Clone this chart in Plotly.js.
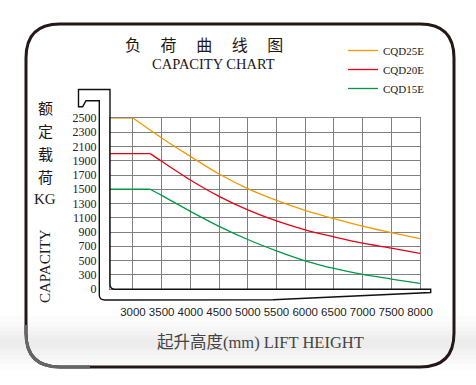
<!DOCTYPE html>
<html>
<head>
<meta charset="utf-8">
<script src="https://cdn.plot.ly/plotly-3.0.1.min.js"></script>
<style>
html,body{margin:0;padding:0;background:#fff;}
#chart{width:476px;height:385px;}
</style>
</head>
<body>
<div id="chart"></div>
<script>
// ---- data ----
const seriesNames = ['CQD25E', 'CQD20E', 'CQD15E'];
const seriesColors = ['#f39800', '#e60012', '#009944'];

const liftCQD25E = [2600, 3000, 3500, 4000, 4500, 5000, 5500, 6000, 6500, 7000, 7500, 8000];
const loadCQD25E = [2500, 2500, 2220, 1962, 1714, 1510, 1345, 1205, 1088, 982, 890, 808];

const liftCQD20E = [2600, 3300, 3500, 4000, 4500, 5000, 5500, 6000, 6500, 7000, 7500, 8000];
const loadCQD20E = [2000, 2000, 1892, 1630, 1400, 1210, 1055, 930, 832, 743, 673, 599];

const liftCQD15E = [2600, 3300, 3500, 4000, 4500, 5000, 5500, 6000, 6500, 7000, 7500, 8000];
const loadCQD15E = [1500, 1500, 1415, 1190, 980, 795, 636, 496, 389, 305, 240, 179];

const yTickVals = [100, 300, 500, 700, 900, 1100, 1300, 1500, 1700, 1900, 2100, 2300, 2500];
const yTickText = ['0', '300', '500', '700', '900', '1100', '1300', '1500', '1700', '1900', '2100', '2300', '2500'];
const xTickVals = [3000, 3500, 4000, 4500, 5000, 5500, 6000, 6500, 7000, 7500, 8000];

const titleCN = '负\u3000 荷\u3000 曲\u3000 线\u3000 图';
const titleEN = 'CAPACITY CHART';
const yTitleCN = ['额', '定', '载', '荷', 'KG'];
const yTitleEN = 'CAPACITY';
const xTitle = '起升高度(mm) LIFT HEIGHT';

// ---- layout helpers (pixel -> paper) ----
const M = {l: 110, r: 56, t: 118, b: 96};
const W = 476 - M.l - M.r, H = 385 - M.t - M.b;
const px = x => (x - M.l) / W;
const py = y => (M.t + H - y) / H;
function p2(cmds) {
  return cmds.map(c => {
    if (c.length === 1) return c[0];
    const pts = [];
    for (let i = 1; i < c.length; i += 2) pts.push(px(c[i]).toFixed(5) + ',' + py(c[i + 1]).toFixed(5));
    return c[0] + pts.join(' ');
  }).join(' ');
}

const textFont = 'Liberation Serif, "Noto Sans CJK SC", serif';
const cjkFont = '"Noto Sans CJK SC", "Liberation Serif", sans-serif';
const ink = '#231815';

// ---- traces: flat (rated-load) part linear, descending part smooth ----
const lifts = [liftCQD25E, liftCQD20E, liftCQD15E];
const loads = [loadCQD25E, loadCQD20E, loadCQD15E];
const traces = [];
seriesNames.forEach((n, i) => {
  traces.push({
    type: 'scatter', mode: 'lines', name: n, legendgroup: n,
    x: lifts[i].slice(1), y: loads[i].slice(1),
    line: {color: seriesColors[i], width: 1.3, shape: 'spline', smoothing: 0.8},
    hoverinfo: 'skip'
  });
});
seriesNames.forEach((n, i) => {
  traces.push({
    type: 'scatter', mode: 'lines', name: n, legendgroup: n, showlegend: false,
    x: lifts[i].slice(0, 2), y: loads[i].slice(0, 2),
    line: {color: seriesColors[i], width: 1.3},
    hoverinfo: 'skip'
  });
});

// ---- decorative shapes ----
const r = 34, fx0 = 26, fx1 = 454, fy0 = 24, fy1 = 367;
const framePath = p2([
  ['M', fx0 + r, fy0], ['L', fx1 - r, fy0], ['Q', fx1, fy0, fx1, fy0 + r],
  ['L', fx1, fy1 - r], ['Q', fx1, fy1, fx1 - r, fy1], ['L', fx0 + r, fy1],
  ['Q', fx0, fy1, fx0, fy1 - r], ['L', fx0, fy0 + r], ['Q', fx0, fy0, fx0 + r, fy0], ['Z']
]);
const frameLowLeft = p2([
  ['M', fx0, fy1 - r - 8], ['L', fx0, fy1 - r], ['Q', fx0, fy1, fx0 + r, fy1], ['L', fx0 + r + 30, fy1]
]);
const mastPath = p2([
  ['M', 78.5, 89.5], ['L', 110, 89.5], ['L', 110, 284], ['Q', 110, 289.3, 115, 289.3],
  ['L', 430.7, 289.3], ['L', 430.7, 292.5], ['L', 273, 299.7], ['L', 105, 300],
  ['Q', 99.3, 300, 99.3, 295], ['L', 99.3, 100.7], ['L', 86, 100.7], ['L', 82.7, 106.7],
  ['L', 78.5, 106.7], ['Z']
]);

const shapes = [];
[[316, 370], [322, 364], [327, 359], [331, 355], [335, 351], [338, 348]].forEach(b => {
  shapes.push({type: 'rect', xref: 'paper', yref: 'paper', layer: 'below',
    x0: px(0), x1: px(476), y0: py(b[1]), y1: py(b[0]),
    fillcolor: 'rgba(0,0,0,0.010)', line: {width: 0}});
});
shapes.push({type: 'path', xref: 'paper', yref: 'paper', path: framePath, line: {color: ink, width: 3}, layer: 'above'});
shapes.push({type: 'path', xref: 'paper', yref: 'paper', path: frameLowLeft, line: {color: '#666', width: 3}, layer: 'above'});
shapes.push({type: 'path', xref: 'paper', yref: 'paper', path: mastPath, line: {color: '#111', width: 1.4}, layer: 'above'});

// ---- text annotations ----
const annotations = [
  {text: titleCN, x: px(204), y: py(43.5), font: {family: cjkFont, size: 16, color: ink}},
  {text: titleEN, x: px(213), y: py(64), font: {family: textFont, size: 14.5, color: ink}},
  {text: yTitleEN, x: px(45), y: py(266), textangle: -90, font: {family: textFont, size: 15, color: ink}},
  {text: xTitle, x: px(260), y: py(342), font: {family: textFont, size: 16.5, color: '#444'}}
];
yTitleCN.forEach((c, i) => {
  annotations.push({text: c, x: px(45), y: py(108 + i * 22.75),
    font: {family: i === 4 ? textFont : cjkFont, size: 15, color: ink}});
});
annotations.forEach(a => {
  a.xref = 'paper'; a.yref = 'paper'; a.showarrow = false;
  a.xanchor = 'center'; a.yanchor = 'middle';
});

const layout = {
  width: 476, height: 385,
  margin: M,
  paper_bgcolor: '#ffffff', plot_bgcolor: 'rgba(0,0,0,0)',
  showlegend: true,
  legend: {x: px(343), y: py(36), xanchor: 'left', yanchor: 'top',
    font: {family: textFont, size: 11, color: ink}, bgcolor: 'rgba(0,0,0,0)',
    itemwidth: 30, tracegroupgap: 0, traceorder: 'normal'},
  xaxis: {
    range: [2600, 8000], tickmode: 'array', tickvals: xTickVals, tickangle: 0,
    showgrid: true, gridcolor: '#808080', gridwidth: 1,
    showline: true, mirror: true, linecolor: '#808080', linewidth: 1,
    zeroline: false, ticks: 'outside', ticklen: 12, tickcolor: 'rgba(0,0,0,0)',
    tickfont: {family: 'Liberation Sans, Arial, sans-serif', size: 11.5, color: '#222'},
    fixedrange: true
  },
  yaxis: {
    range: [100, 2500], tickmode: 'array', tickvals: yTickVals, ticktext: yTickText,
    showgrid: true, gridcolor: '#808080', gridwidth: 1,
    showline: true, mirror: true, linecolor: '#808080', linewidth: 1,
    zeroline: false, ticks: 'outside', ticklen: 10, tickcolor: 'rgba(0,0,0,0)',
    tickfont: {family: 'Liberation Serif, serif', size: 12, color: '#222'},
    fixedrange: true
  },
  shapes: shapes,
  annotations: annotations
};

Plotly.newPlot('chart', traces, layout, {displayModeBar: false, staticPlot: true});
</script>
</body>
</html>
